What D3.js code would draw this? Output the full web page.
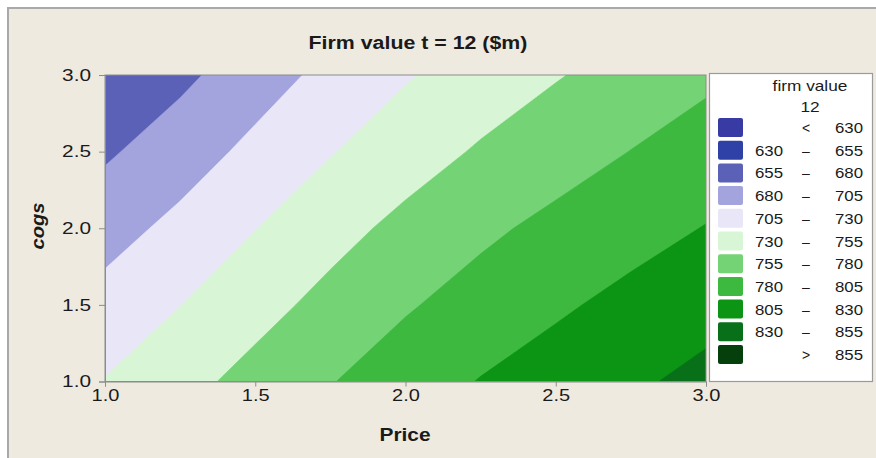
<!DOCTYPE html>
<html><head><meta charset="utf-8">
<script src="https://cdn.jsdelivr.net/npm/d3@7"></script>
<style>
body{margin:0;background:#fff}
svg{display:block}
text{font-family:"Liberation Sans",Arial,Helvetica,sans-serif;fill:#1a1a1a}
</style>
</head><body>
<svg id="chart" width="876" height="458"></svg>
<script>
// ---- data ----
const priceGrid = [1.0, 1.25, 1.5, 1.75, 2.0, 2.25, 2.5, 2.75, 3.0];
const cogsGrid = [3.0, 2.5, 2.0, 1.5, 1.0]; // rows, top to bottom
const firmValue = [
  [656.0, 674.4, 693.7, 711.7, 727.9, 740.9, 753.4, 764.5, 775.4],
  [676.5, 693.2, 711.2, 728.6, 743.7, 757.7, 769.1, 780.4, 790.7],
  [695.5, 711.5, 729.5, 746.4, 761.6, 775.1, 786.3, 796.2, 805.9],
  [713.5, 729.6, 746.4, 762.4, 777.6, 789.8, 801.4, 811.7, 821.3],
  [731.0, 747.1, 763.1, 778.9, 792.8, 806.1, 816.1, 826.1, 836.6]
];
const levels = [600, 630, 655, 680, 705, 730, 755, 780, 805, 830, 855];
const bandColors = ["#373ba3", "#2f40a6", "#5a61b7", "#a3a3de", "#e9e6f8",
  "#d8f6d5", "#74d374", "#3db93f", "#0c9514", "#09701a", "#053f0c"];
const legendLow  = ["", "630", "655", "680", "705", "730", "755", "780", "805", "830", ""];
const legendSep  = ["<", "–", "–", "–", "–", "–", "–", "–", "–", "–", ">"];
const legendHigh = ["630", "655", "680", "705", "730", "755", "780", "805", "830", "855", "855"];
const xTicks = [1.0, 1.5, 2.0, 2.5, 3.0];
const yTicks = [1.0, 1.5, 2.0, 2.5, 3.0];
const titleText = "Firm value t = 12 ($m)";
const xLabel = "Price", yLabel = "cogs";
const legendTitle = ["firm value", "12"];

// ---- layout ----
const svg = d3.select("#chart");
const L = 105, R = 706, T = 75, B = 381.5;
const x = d3.scaleLinear().domain([1, 3]).range([L, R]);
const y = d3.scaleLinear().domain([1, 3]).range([B, T]);

function stretch(sel, f) {
  sel.each(function () {
    const w = this.getComputedTextLength();
    this.setAttribute("textLength", (w * f).toFixed(2));
    this.setAttribute("lengthAdjust", "spacingAndGlyphs");
  });
}

// outer panel
svg.append("rect").attr("x", 8).attr("y", 8).attr("width", 900).attr("height", 500)
  .attr("fill", "#efeae0").attr("stroke", "#a9a9a9").attr("stroke-width", 2);

// title
svg.append("text").attr("x", 418).attr("y", 49).attr("text-anchor", "middle")
  .attr("font-size", 17.5).attr("font-weight", "bold").text(titleText).call(stretch, 1.22);

// contours
const nx = priceGrid.length, ny = cogsGrid.length;
const values = firmValue.flat();
const contours = d3.contours().size([nx, ny]).thresholds(levels)(values);
const ux = d3.scaleLinear().domain([0.5, nx - 0.5]).range([x(priceGrid[0]), x(priceGrid[nx - 1])]);
const vy = d3.scaleLinear().domain([0.5, ny - 0.5]).range([y(cogsGrid[0]), y(cogsGrid[ny - 1])]);
const proj = d3.geoTransform({ point: function (a, b) { this.stream.point(ux(a), vy(b)); } });
const path = d3.geoPath(proj);

svg.append("clipPath").attr("id", "plotclip").append("rect")
  .attr("x", L).attr("y", T).attr("width", R - L).attr("height", B - T);
const g = svg.append("g").attr("clip-path", "url(#plotclip)");
g.selectAll("path").data(contours).join("path")
  .attr("d", path)
  .attr("fill", (d, i) => bandColors[levels.indexOf(d.value)])
  .attr("stroke", (d, i) => bandColors[levels.indexOf(d.value)])
  .attr("stroke-width", 0.6);

svg.append("rect").attr("x", L).attr("y", T).attr("width", R - L).attr("height", B - T)
  .attr("fill", "none").attr("stroke", "#8c8c8c").attr("stroke-width", 1);

// axes
const fmt = d3.format(".1f");
const ax = svg.append("g").attr("transform", `translate(0,${B})`)
  .call(d3.axisBottom(x).tickValues(xTicks).tickFormat(fmt).tickSize(5).tickPadding(3));
const ay = svg.append("g").attr("transform", `translate(${L},0)`)
  .call(d3.axisLeft(y).tickValues(yTicks).tickFormat(fmt).tickSize(6).tickPadding(8));
[ax, ay].forEach(a => {
  a.select(".domain").attr("stroke", "#8c8c8c");
  a.selectAll(".tick line").attr("stroke", "#8c8c8c");
  a.selectAll(".tick text").attr("font-size", 16).attr("fill", "#1a1a1a")
    .style("font-family", '"Liberation Sans",Arial,sans-serif');
});
ay.selectAll(".tick text").call(stretch, 1.3);
ax.selectAll(".tick text").call(stretch, 1.25);

// axis titles
svg.append("text").attr("x", 405).attr("y", 441).attr("text-anchor", "middle")
  .attr("font-size", 18).attr("font-weight", "bold").text(xLabel).call(stretch, 1.16);
svg.append("text").attr("transform", "translate(44,226) rotate(-90)").attr("text-anchor", "middle")
  .attr("font-size", 18).attr("font-weight", "bold").attr("font-style", "italic")
  .text(yLabel).call(stretch, 1.12);

// legend
const lg = svg.append("g");
lg.append("rect").attr("x", 709.5).attr("y", 73.5).attr("width", 163).attr("height", 308)
  .attr("fill", "#ffffff").attr("stroke", "#9a9a9a").attr("stroke-width", 1.2);
lg.selectAll("text.lt").data(legendTitle).join("text").attr("class", "lt")
  .attr("x", 810).attr("y", (d, i) => 91 + i * 21).attr("text-anchor", "middle")
  .attr("font-size", 15).text(d => d).call(stretch, 1.15);
const rowY = i => 118 + i * 22.7;
const rows = lg.selectAll("g.row").data(bandColors).join("g").attr("class", "row");
rows.append("rect").attr("x", 718).attr("y", (d, i) => rowY(i)).attr("width", 25).attr("height", 19)
  .attr("rx", 2).attr("fill", d => d);
rows.append("text").attr("x", 783).attr("y", (d, i) => rowY(i) + 15).attr("text-anchor", "end")
  .attr("font-size", 14).text((d, i) => legendLow[i]).call(stretch, 1.2);
rows.append("text").attr("x", 806).attr("y", (d, i) => rowY(i) + 15).attr("text-anchor", "middle")
  .attr("font-size", 14).text((d, i) => legendSep[i]);
rows.append("text").attr("x", 863).attr("y", (d, i) => rowY(i) + 15).attr("text-anchor", "end")
  .attr("font-size", 14).text((d, i) => legendHigh[i]).call(stretch, 1.2);
</script>
</body></html>
